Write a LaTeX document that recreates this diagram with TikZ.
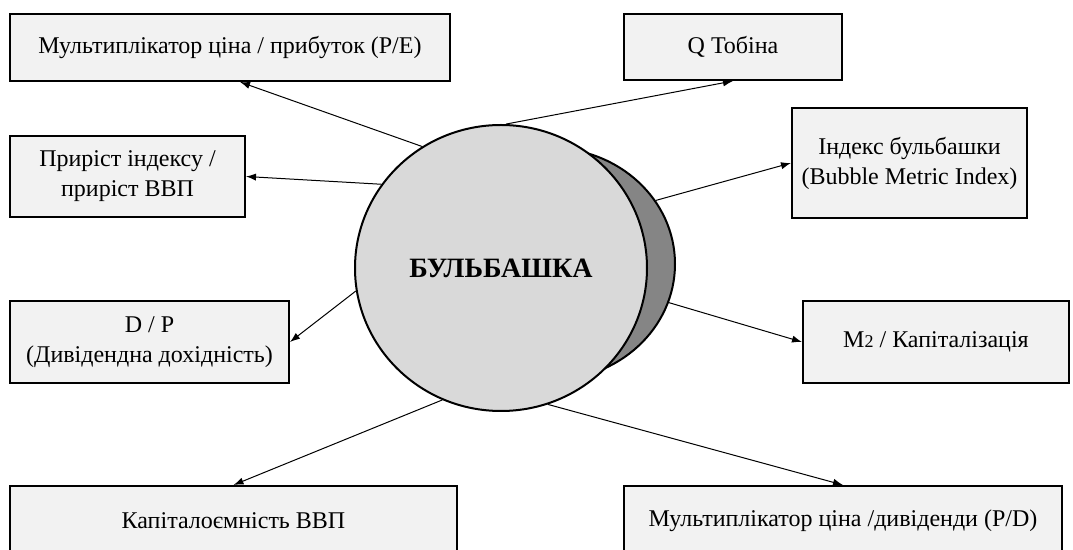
\documentclass[tikz,border=0pt]{standalone}
\usepackage{fontspec}
\setmainfont{Liberation Serif}
\usetikzlibrary{shapes.geometric,arrows.meta}
\definecolor{boxfill}{HTML}{F2F2F2}
\definecolor{bubfill}{HTML}{D9D9D9}
\definecolor{bubback}{HTML}{858585}
\begin{document}
\begin{tikzpicture}[x=0.5pt,y=-0.5pt,font=\fontsize{12}{15}\selectfont, link/.style={-{Latex[length=5pt,width=3.6pt]}, line width=0.5pt}]
      \tikzstyle{box}=[draw,line width=1pt,fill=boxfill,align=center,inner sep=2pt]
      \tikzstyle{bubble}=[ellipse,draw,line width=1pt,inner sep=0pt]
      \useasboundingbox (0,0) rectangle (1073,550);

      \node(back)[bubble,fill=bubback,minimum width=125pt,minimum height=116pt] at (550,264){};
      \node(bub)[bubble,fill=bubfill,minimum width=146pt,minimum height=143pt] at (501,268)
          {\fontsize{14}{17}\selectfont\bfseries БУЛЬБАШКА};

      \node(pe)[box,minimum width=220pt,minimum height=33.5pt] at (230,47.5)
          {Мультиплікатор ціна / прибуток (P/E)};
      \node(tobin)[box,minimum width=109pt,minimum height=33pt] at (733,47)
          {Q Тобіна};
      \node(growth)[box,minimum width=117.5pt,minimum height=40.5pt] at (127.5,176.5)
          {Приріст індексу /\\приріст ВВП};
      \node(bmi)[box,minimum width=117.5pt,minimum height=55pt] at (909.5,163)
          {Індекс бульбашки\\(Bubble Metric Index)};
      \node(dp)[box,minimum width=139.5pt,minimum height=41pt] at (149.5,342)
          {D / P\\(Дивідендна дохідність)};
      \node(mtwo)[box,minimum width=133pt,minimum height=41pt] at (936,342)
          {M{\fontsize{9}{10}\selectfont 2} / Капіталізація};
      \node(capint)[box,minimum width=223.5pt,minimum height=35pt] at (233.5,521)
          {Капіталоємність ВВП};
      \node(pd)[box,minimum width=219pt,minimum height=35pt] at (843,521)
          {Мультиплікатор ціна /дивіденди (P/D)};

      \draw[link] (bub.123) -- ([xshift=5pt]pe.south);
      \draw[link] (bub.88) -- (tobin.south);
      \draw[link] (bub.145) -- (growth.east);
      \draw[link] (back.31) -- (bmi.west);
      \draw[link] (bub.189) -- (dp.east);
      \draw[link] (back.342) -- (mtwo.west);
      \draw[link] (bub.246) -- (capint.north);
      \draw[link] (bub.289) -- (pd.north);
    \end{tikzpicture}
\end{document}
